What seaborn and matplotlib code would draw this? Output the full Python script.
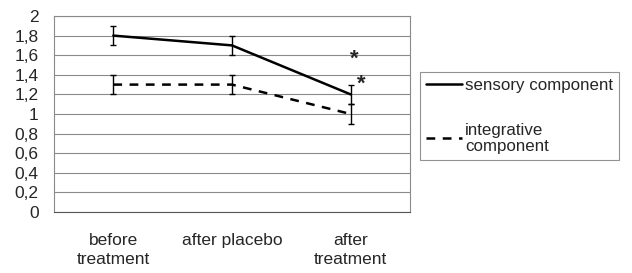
import matplotlib
matplotlib.use("Agg")
import matplotlib.pyplot as plt
import seaborn as sns
import pandas as pd
import numpy as np

categories = ["before\ntreatment", "after placebo", "after\ntreatment"]
sensory = [1.8, 1.7, 1.2]
sensory_err = [0.1, 0.1, 0.1]
integrative = [1.3, 1.3, 1.0]
integrative_err = [0.1, 0.1, 0.1]
y_ticks = [0, 0.2, 0.4, 0.6, 0.8, 1.0, 1.2, 1.4, 1.6, 1.8, 2.0]
y_tick_labels = ["0", "0,2", "0,4", "0,6", "0,8", "1", "1,2", "1,4", "1,6", "1,8", "2"]
stars = [(2.03, 1.56), (2.09, 1.30)]

sns.set_style("white")
plt.rcParams['font.family'] = ['Liberation Sans', 'DejaVu Sans']

fig = plt.figure(figsize=(6.32, 2.73), dpi=100)
ax = fig.add_axes([54/632, 1-212/273, (410-54)/632, 196/273])

x = np.arange(len(categories))
df_s = pd.DataFrame({"x": x, "y": sensory})
df_i = pd.DataFrame({"x": x, "y": integrative})

sns.lineplot(data=df_s, x="x", y="y", ax=ax, color="black", lw=1.8,
             label="sensory component")
sns.lineplot(data=df_i, x="x", y="y", ax=ax, color="black", lw=1.8,
             label="integrative\ncomponent")
ax.lines[1].set_dashes((3.5, 3))

ax.errorbar(x, sensory, yerr=sensory_err, fmt="none", ecolor="black",
            elinewidth=1.0, capsize=2.5, capthick=1.0)
ax.errorbar(x, integrative, yerr=integrative_err, fmt="none", ecolor="black",
            elinewidth=1.0, capsize=2.5, capthick=1.0)

for sx, sy in stars:
    ax.text(sx, sy, "*", ha="center", va="center", fontsize=16, fontweight="bold")

ax.set_xlim(-0.5, 2.5)
ax.set_ylim(0, 2)
ax.set_yticks(y_ticks)
ax.set_yticklabels(y_tick_labels)
ax.set_xticks(x)
ax.set_xticklabels(categories, linespacing=1.35)
ax.set_xticks([-0.5, 0.5, 1.5, 2.5], minor=True)
ax.tick_params(axis="x", which="major", length=0, pad=15, labelsize=12.5)
ax.tick_params(axis="x", which="minor", length=3, width=0.8, color="#555555", direction="out")
ax.tick_params(axis="y", which="major", length=2, width=0.8, color="#555555",
               direction="out", pad=9, labelsize=12.5)
ax.set_xlabel("")
ax.set_ylabel("")
ax.grid(axis="y", color="#8a8a8a", lw=0.8)
ax.set_axisbelow(True)
for sp in ax.spines.values():
    sp.set_visible(True)
    sp.set_color("#8a8a8a")
    sp.set_linewidth(0.8)
ax.spines["bottom"].set_color("#555555")

leg = ax.legend(loc="upper left", bbox_to_anchor=(420/632, 1-72/273),
                bbox_transform=fig.transFigure, fontsize=12.2, frameon=True,
                fancybox=False, edgecolor="#777777", handlelength=2.1,
                handletextpad=0.2, labelspacing=1.75, borderpad=0.35,
                borderaxespad=0)
leg.get_frame().set_linewidth(0.8)
for t in leg.get_texts():
    t.set_linespacing(1.1)

fig.savefig("out.png", dpi=100)
